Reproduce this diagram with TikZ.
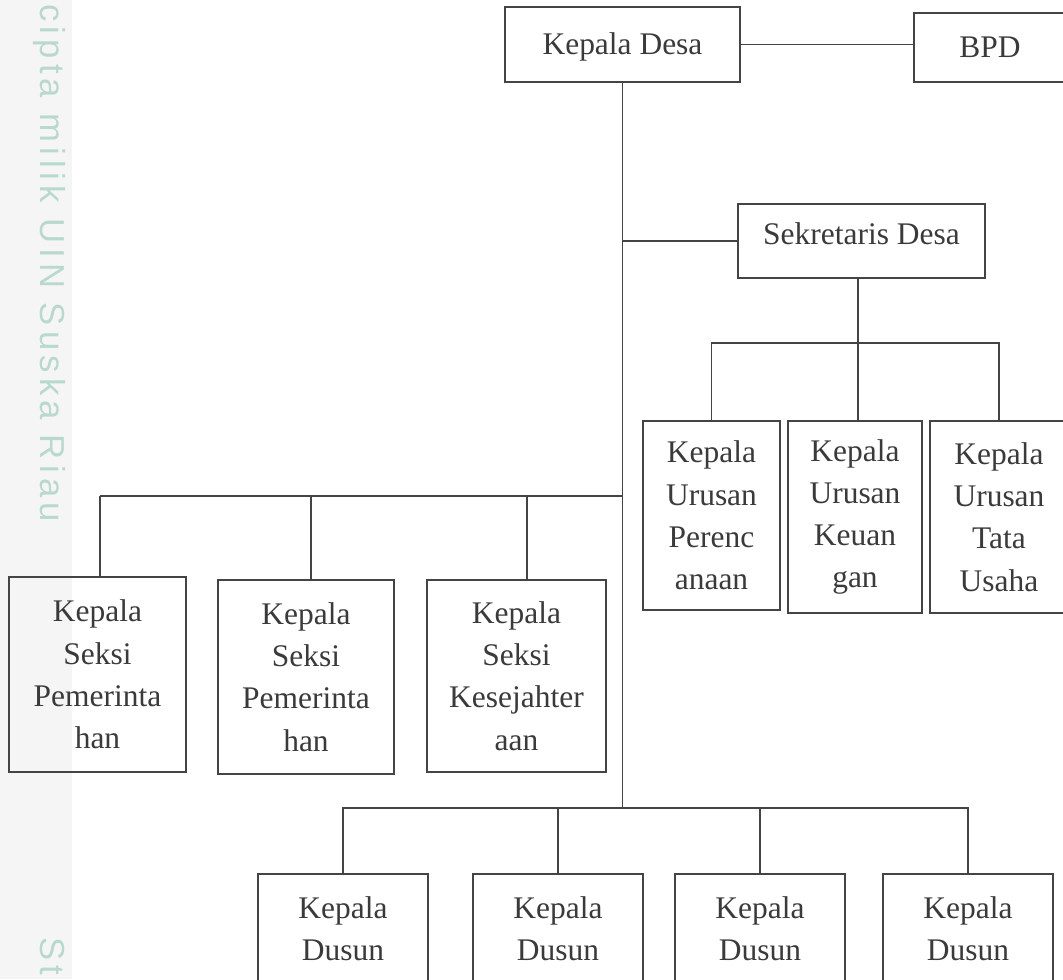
\documentclass[tikz,border=0pt]{standalone}
\usepackage{fontspec}
\setmainfont{Liberation Serif}
\newfontfamily\wmfont{Liberation Sans}[LetterSpace=15]
\usetikzlibrary{calc}
\definecolor{ln}{HTML}{444444}
\definecolor{tx}{HTML}{3A3A3A}
\definecolor{wm}{HTML}{B9D9CE}
\definecolor{band}{HTML}{F5F5F5}
\begin{document}
\begin{tikzpicture}[x=0.75pt,y=-0.75pt,
  box/.style={draw=ln, line width=1.65pt, text=tx, align=center, inner sep=0pt,
    font=\fontsize{23.6pt}{31.7pt}\selectfont},
  sz/.style 2 args={minimum width=#1*0.75pt, minimum height=#2*0.75pt},
  conn/.style={draw=ln, line width=1.35pt},
  wmtext/.style={text=wm, rotate=-90, anchor=base west, inner sep=0pt,
    font=\wmfont\fontsize{26pt}{30pt}\selectfont}]
\useasboundingbox (0,0) rectangle (1063,979);
\fill[band] (0,0) rectangle (72,979);
\node[wmtext] (wm1) at (40,4) {cipta milik UIN Suska Riau};
\node[wmtext] (wm2) at (40,937) {Sta};

% top
\node[box, sz={235}{75}, text height=15.5pt, text depth=0pt] (KD) at (622.5,44.5) {Kepala Desa};
\node[box, sz={152}{69}] (BPD) at (990,47.5) {BPD};
\node[box, sz={247}{74}, text height=15.5pt, text depth=10.5pt] (SD) at (861.5,241) {Sekretaris Desa};

% urusan
\node[box, sz={137}{189}] (KUP) at (711.5,515.5) {Kepala\\Urusan\\Perenc\\anaan};
\node[box, sz={134}{192}] (KK) at (855,517) {Kepala\\Urusan\\Keuan\\gan};
\node[box, sz={138}{192}] (KTU) at (999,517) {Kepala\\Urusan\\Tata\\Usaha};

% seksi
\node[box, sz={177}{195}] (KS1) at (97.5,674.5) {Kepala\\Seksi\\Pemerinta\\han};
\node[box, sz={176}{194}] (KS2) at (306,677) {Kepala\\Seksi\\Pemerinta\\han};
\node[box, sz={179}{192}] (KS3) at (516.5,676) {Kepala\\Seksi\\Kesejahter\\aan};

% dusun
\node[box, sz={170}{110}] (D1) at (343,929) {Kepala\\Dusun};
\node[box, sz={170}{110}] (D2) at (558,929) {Kepala\\Dusun};
\node[box, sz={170}{110}] (D3) at (760,929) {Kepala\\Dusun};
\node[box, sz={170}{110}] (D4) at (968,929) {Kepala\\Dusun};

% branch points
\coordinate (lb) at (622.5,496);
\coordinate (bb) at (622.5,808);
\coordinate (ub) at (858,343);
\coordinate (d1) at (100,496);
\coordinate (d2) at (311,496);
\coordinate (d3) at (527,496);

% connectors
\draw[conn] (KD.east) -- (KD.east -| BPD.west);
\draw[conn] (KD.south) -- (bb);
\draw[conn] (KD.south |- SD.west) -- (SD.west);
\draw[conn] (SD.south -| ub) -- (ub);
\draw[conn] (KUP.north) |- (ub) -| (KTU.north);
\draw[conn] (ub) -- (ub |- KK.north);
\draw[conn] (d1) -- (lb);
\draw[conn] (d1) -- (d1 |- KS1.north);
\draw[conn] (d2) -- (d2 |- KS2.north);
\draw[conn] (d3) -- (d3 |- KS3.north);
\draw[conn] (D1.north) |- (bb) -| (D4.north);
\draw[conn] (D2.north) |- (bb);
\draw[conn] (D3.north) |- (bb);
\end{tikzpicture}
\end{document}
